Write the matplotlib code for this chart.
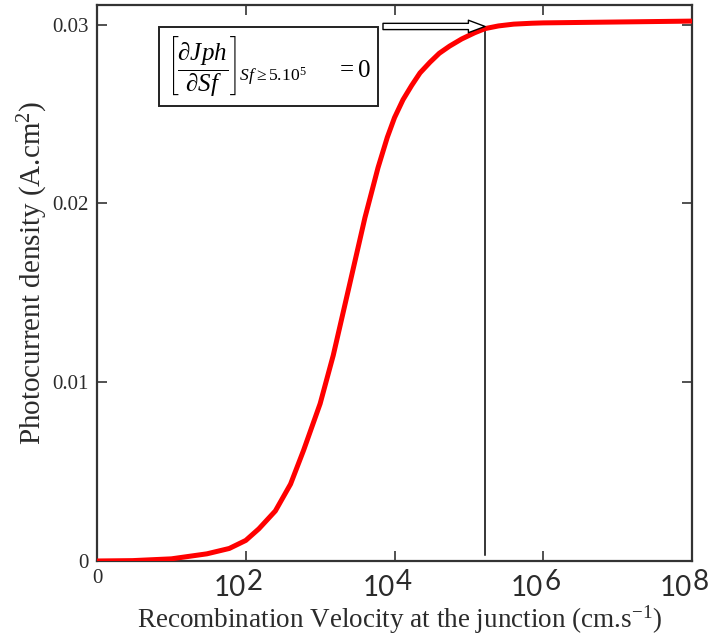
import numpy as np
import matplotlib.pyplot as plt
from matplotlib.transforms import blended_transform_factory, offset_copy

# values (Sf in cm/s, Jph in A/cm2)
sf = [1, 3, 10, 30, 60, 100, 150, 250, 400, 600, 1000, 1500, 2500, 4000,
      6000, 8000, 1e4, 1.3e4, 1.7e4, 2.2e4, 3e4, 4e4, 5.5e4, 8e4, 1.2e5,
      1.65e5, 2.5e5, 4e5, 7e5, 1e6, 1e7, 1e8]
jph = [0.0, 0.00002, 0.00012, 0.0004, 0.0007, 0.00115, 0.0018, 0.0028,
       0.0043, 0.0062, 0.0088, 0.0115, 0.0155, 0.0192, 0.0220, 0.0237,
       0.0248, 0.0258, 0.0266, 0.0273, 0.0279, 0.0284, 0.0288, 0.0292,
       0.02955, 0.02978, 0.02993, 0.03003, 0.03008, 0.0301, 0.03015, 0.0302]
sf_limit = 1.65e5
decades = [1e2, 1e4, 1e6, 1e8]
exponents = ['2', '4', '6', '8']
yticks = [0, 0.01, 0.02, 0.03]
ylabels = ['0', '0.01', '0.02', '0.03']

plt.rcParams['mathtext.fontset'] = 'custom'
plt.rcParams['mathtext.rm'] = 'Liberation Serif'
plt.rcParams['mathtext.it'] = 'Liberation Serif:italic'

txt = '#2b2b2b'
fig = plt.figure(figsize=(7.16, 6.42), dpi=100)
ax = fig.add_axes([0.1355, 0.1262, 0.831, 0.866])

ax.plot(sf, jph, color='#ff0000', lw=3.6, solid_capstyle='butt',
        solid_joinstyle='round', zorder=3)
ax.plot([sf_limit, sf_limit], [0.00035, 0.0298], color='black', lw=1.1)

ax.set_xscale('log')
ax.set_xlim(1, 1e8)
ax.set_ylim(0, 0.0311)
ax.set_xticks([1] + decades)
ax.set_xticklabels(['0', '', '', '', ''])
ax.minorticks_off()
ax.set_yticks(yticks)
ax.set_yticklabels(ylabels)
ax.tick_params(direction='in', length=7, width=1.1, top=True, right=True,
               labelsize=15, labelcolor=txt, color='#222222', pad=6)
for lab in ax.get_xticklabels() + ax.get_yticklabels():
    lab.set_family('Liberation Serif')
for s in ax.spines.values():
    s.set_linewidth(1.6)
    s.set_color('#333333')

# decade labels in large sans, exponent at nearly full size
tr = blended_transform_factory(ax.transData, ax.transAxes)
for d, e in zip(decades, exponents):
    ax.text(d, 0, '10', transform=offset_copy(tr, fig, x=0, y=-14, units='dots'),
            ha='right', va='top', fontsize=20, family='Lato', color=txt)
    ax.text(d, 0, e, transform=offset_copy(tr, fig, x=1, y=-8, units='dots'),
            ha='left', va='top', fontsize=20, family='Lato', color=txt)

fig.text(0.558, 0.034, r'Recombination Velocity at the junction (cm.s$^{\mathregular{-1}}$)',
         family='Liberation Serif', fontsize=19.5, color=txt, ha='center', va='center')
fig.text(0.046, 0.575, r'Photocurrent density (A.cm$^{\mathregular{2}}$)',
         family='Liberation Serif', fontsize=21, color=txt, ha='center', va='center',
         rotation=90)

# annotation box and arrow
ax.text(0.117, 0.89,
        r'$\left[\dfrac{\partial Jph}{\partial Sf}\right]_{Sf\geq 5.10^{5}}\ \ \ \ \ = 0$',
        transform=ax.transAxes, fontsize=18, va='center', ha='left', color='black',
        bbox=dict(boxstyle='square,pad=0.3', fc='white', ec='#222222', lw=1.4))
ax.annotate('', xy=(sf_limit, 0.0299), xytext=(7000, 0.0299),
            arrowprops=dict(arrowstyle='simple,head_length=1.2,head_width=0.9,tail_width=0.45',
                            fc='white', ec='black', lw=1.0, shrinkA=0, shrinkB=0))

fig.savefig('out.png', dpi=100)
